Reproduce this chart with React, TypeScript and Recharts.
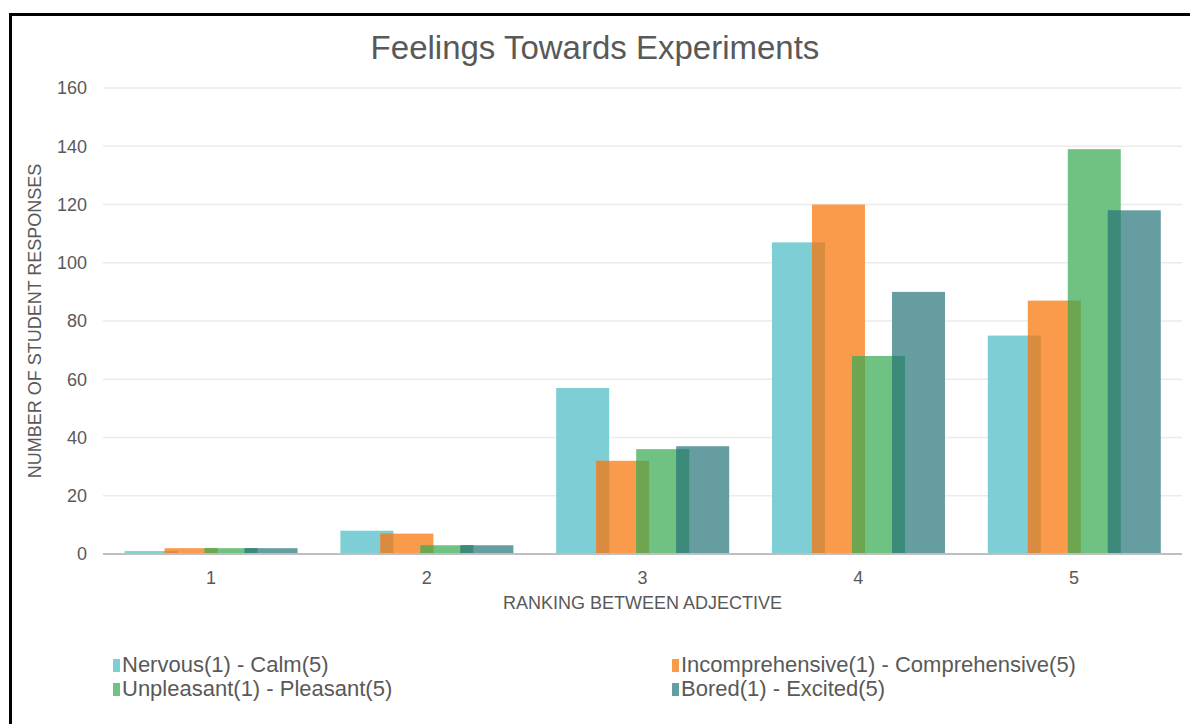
import React from "react";
import {
  BarChart,
  Bar,
  XAxis,
  YAxis,
  CartesianGrid,
} from "recharts";

const rankings = ["1", "2", "3", "4", "5"];
const nervousCalm = [1, 8, 57, 107, 75];
const incompComp = [2, 7, 32, 120, 87];
const unpleasantPleasant = [2, 3, 36, 68, 139];
const boredExcited = [2, 3, 37, 90, 118];
const yTicks = [0, 20, 40, 60, 80, 100, 120, 140, 160];

const series = [
  { key: "nervous", name: "Nervous(1) - Calm(5)", values: nervousCalm, color: "#7DCFD5", dark: "#7DCFD5" },
  { key: "incomp", name: "Incomprehensive(1) - Comprehensive(5)", values: incompComp, color: "#FA9A4B", dark: "#D98B40" },
  { key: "unpleasant", name: "Unpleasant(1) - Pleasant(5)", values: unpleasantPleasant, color: "#70C283", dark: "#6EA550" },
  { key: "bored", name: "Bored(1) - Excited(5)", values: boredExcited, color: "#669DA0", dark: "#3C8A7A" },
];

const data = rankings.map((r, i) => {
  const row: any = { rank: r };
  series.forEach((s) => (row[s.key] = s.values[i]));
  return row;
});

const BAR_GAP = -13; // bars overlap each other
const FONT = "'Liberation Sans', Arial, sans-serif";
const GREY = "#595959";

// bar with a darker strip where it sits over the previous series' bar
const OverlapBar = (props: any) => {
  const { x, y, width, height, payload, idx } = props;
  if (!height || height <= 0) return null;
  const s = series[idx];
  const cur = payload[s.key];
  const prev = idx > 0 ? payload[series[idx - 1].key] : 0;
  const ovH = cur > 0 ? (Math.min(cur, prev) * height) / cur : 0;
  return (
    <g>
      <rect x={x} y={y} width={width} height={height} fill={s.color} />
      {idx > 0 && ovH > 0 && (
        <rect
          x={x}
          y={y + height - ovH}
          width={-BAR_GAP}
          height={ovH}
          fill={s.dark}
        />
      )}
    </g>
  );
};

const LegendBox = () => (
  <div
    style={{
      position: "absolute",
      left: 113,
      top: 654,
      display: "grid",
      gridTemplateColumns: "559px 500px",
      rowGap: 2,
      fontFamily: FONT,
      fontSize: 22,
      color: GREY,
      lineHeight: "22px",
    }}
  >
    {series.map((s) => (
      <div key={s.key} style={{ display: "flex", alignItems: "center" }}>
        <span
          style={{
            width: 7,
            height: 13,
            background: s.color,
            marginRight: 2,
            display: "inline-block",
          }}
        />
        {s.name}
      </div>
    ))}
  </div>
);

export default function App() {
  return (
    <div
      style={{
        position: "fixed",
        left: 0,
        top: 0,
        width: 1190,
        height: 724,
        overflow: "hidden",
        background: "#fff",
      }}
    >
      <div
        style={{
          position: "absolute",
          left: 9,
          top: 13,
          width: 1300,
          height: 800,
          border: "3px solid #000",
        }}
      />
      <div
        style={{
          position: "absolute",
          left: 595,
          top: 48,
          transform: "translate(-50%, -50%)",
          fontFamily: FONT,
          fontSize: 33,
          color: GREY,
          whiteSpace: "nowrap",
        }}
      >
        Feelings Towards Experiments
      </div>
      <div style={{ position: "absolute", left: 0, top: 0 }}>
        <BarChart
          width={1190}
          height={724}
          data={data}
          margin={{ top: 88, right: 8, left: 0, bottom: 140 }}
          barCategoryGap="10%"
          barGap={BAR_GAP}
        >
          <CartesianGrid vertical={false} stroke="#EBEBEB" strokeWidth={1.5} />
          <XAxis
            dataKey="rank"
            height={30}
            axisLine={{ stroke: "#BFBFBF", strokeWidth: 2 }}
            tickLine={false}
            tickMargin={11}
            tick={{ fontSize: 18, fill: GREY, fontFamily: FONT }}
            label={{
              content: (p: any) => {
                const vb = p.viewBox;
                return (
                  <text
                    x={vb.x + vb.width / 2}
                    y={603}
                    textAnchor="middle"
                    dominantBaseline="central"
                    fontSize={18}
                    fill={GREY}
                    fontFamily={FONT}
                  >
                    RANKING BETWEEN ADJECTIVE
                  </text>
                );
              },
            }}
          />
          <YAxis
            width={103}
            domain={[0, 160]}
            ticks={yTicks}
            axisLine={false}
            tickLine={false}
            tickMargin={10}
            tick={{ fontSize: 18, fill: GREY, fontFamily: FONT }}
            label={{
              content: (p: any) => {
                const vb = p.viewBox;
                const cy = vb.y + vb.height / 2;
                return (
                  <text
                    x={35}
                    y={cy}
                    transform={`rotate(-90, 35, ${cy})`}
                    textAnchor="middle"
                    dominantBaseline="central"
                    fontSize={18}
                    fill={GREY}
                    fontFamily={FONT}
                  >
                    NUMBER OF STUDENT RESPONSES
                  </text>
                );
              },
            }}
          />
          {series.map((s, i) => (
            <Bar
              key={s.key}
              dataKey={s.key}
              name={s.name}
              fill={s.color}
              isAnimationActive={false}
              shape={(p: any) => <OverlapBar {...p} idx={i} />}
            />
          ))}
        </BarChart>
      </div>
      <LegendBox />
    </div>
  );
}
